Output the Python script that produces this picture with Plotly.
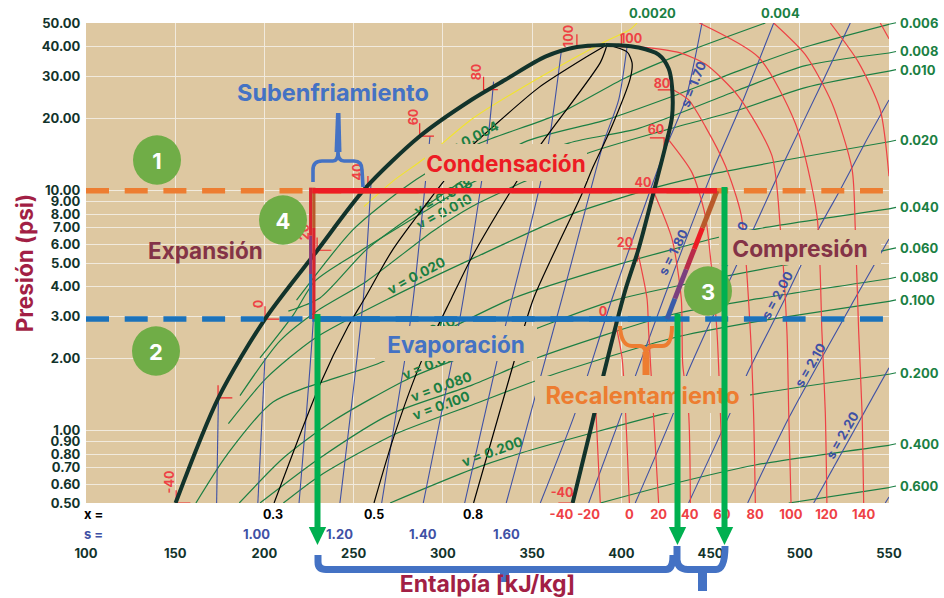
import math
import plotly.graph_objects as go

# ---------- data (h in kJ/kg, P in the axis unit) ----------
liquid_h = [150.2, 174.2, 200.3, 229.3, 256.3, 287.2, 316.3, 335.0, 357.4, 375.1, 391.0]
liquid_P = [0.5, 1.37, 2.92, 5.6, 10.2, 16.9, 24.0, 29.0, 36.2, 39.7, 40.5]
vapor_h = [391.0, 398.5, 409.7, 420.9, 426.5, 428.4, 428.4, 424.6, 417.2, 409.7, 402.2, 390.1, 382.6, 372.7]
vapor_P = [40.5, 40.4, 39.5, 36.9, 32.3, 27.2, 20.3, 15.2, 9.3, 5.73, 3.85, 1.72, 1.0, 0.5]

iso_T = {
    -20: ([385.5, 385.8, 388.2], [1.32, 1.19, 0.5]),
    0: ([396.6, 400.4, 404.5], [2.83, 2.01, 0.5]),
    20: ([408.8, 414.4, 415.3, 420.9], [5.73, 3.55, 2.59, 0.5]),
    40: ([418.1, 428.4, 433.6, 434.4, 437.7, 438.7], [9.9, 6.3, 3.55, 1.89, 1.19, 0.5]),
    60: ([425.6, 439.6, 447.0, 450.2, 453.6, 455.5, 457.3], [16.6, 11.9, 7.9, 5.05, 2.59, 1.19, 0.5]),
    80: ([429.3, 437.7, 447.1, 458.3, 467.2, 472.3, 474.1, 475.1], [26.3, 23.9, 18.5, 12.7, 7.9, 2.59, 1.19, 0.5]),
    100: ([410.6, 432.1, 447.1, 465.7, 484.4, 489.1, 492.8, 493.8, 495.1], [39.8, 37.7, 33.7, 24.7, 14.0, 6.95, 2.59, 1.19, 0.5]),
    120: ([443.7, 477.0, 497.5, 509.6, 512.4, 514.3, 515.2], [50, 35.9, 19.1, 7.9, 2.59, 1.19, 0.5]),
    140: ([485.4, 503.1, 518.0, 529.3, 531.1, 533.0, 534.9, 535.8], [50, 36.9, 23.2, 12.3, 6.95, 2.59, 1.19, 0.5]),
    160: ([517.1, 533.0, 545.1, 550.0], [50, 34.2, 21.7, 11.5]),
    180: ([545.1, 550.0], [50, 43]),
}

iso_s = {
    0.90: ([174.2, 173.2], [1.37, 0.5]),
    1.00: ([200.3, 196.3], [2.01, 0.5]),
    1.10: ([228.3, 227.4, 219.4], [5.6, 2.92, 0.5]),
    1.20: ([259.7, 255.4, 242.3], [10.7, 3.55, 0.5]),
    1.30: ([292.8, 283.4, 278.8, 265.7], [16.9, 3.55, 2.01, 0.5]),
    1.40: ([328.4, 325.6, 311.5, 304.9, 289.0], [28.5, 17.4, 3.575, 1.92, 0.5]),
    1.50: ([366.4, 360.2, 354.6, 348.1, 338.7, 330.3, 312.2], [38.4, 17.4, 10.7, 6.7, 3.55, 1.95, 0.5]),
    1.60: ([403.2, 398.5, 390.1, 379.8, 366.7, 350.9, 335.5], [39.8, 23.9, 15.9, 8.3, 3.55, 1.32, 0.5]),
    1.70: ([445.2, 435.9, 424.6, 394.8, 374.2, 354.6], [50, 23.9, 14.9, 3.55, 1.19, 0.5]),
    1.80: ([485.4, 467.6, 450.8, 423.7, 400.4, 381.7], [50, 23.2, 11.9, 3.55, 1.19, 0.5]),
    1.90: ([528.3, 511.5, 491.9, 474.1, 436.8, 429.3, 407.8], [50, 27.2, 13.5, 6.95, 1.72, 1.19, 0.5]),
    2.00: ([550.0, 536.7, 522.7, 510.6, 491.9, 470.4, 461.1, 437.7], [23.9, 15.9, 10.1, 6.95, 3.575, 1.72, 1.19, 0.5]),
    2.10: ([550.0, 531.1, 493.8, 470.8], [6.3, 3.575, 1.13, 0.5]),
    2.20: ([550.0, 507.8], [1.83, 0.5]),
    2.30: ([550.0, 547.9], [0.53, 0.5]),
}

iso_x = {
    0.3: ([205.4, 231.1, 247.0, 256.3, 272.2, 300.2, 316.3, 325.6, 353.7, 381.7, 392.0],
          [0.5, 1.56, 2.73, 3.575, 5.73, 10.9, 15.4, 17.8, 26.9, 36.6, 40.6]),
    0.5: ([261.4, 272.2, 288.1, 304.9, 316.3, 340.6, 354.6, 388.2, 392.0],
          [0.5, 0.93, 1.96, 3.575, 5.3, 10.7, 15.5, 34.2, 40.6]),
    0.8: ([317.2, 339.7, 350.9, 377.9, 383.6, 393.8, 405.0, 406.0, 403.2, 392.0],
          [0.5, 1.92, 3.575, 9.7, 12.3, 17.9, 29.4, 34.2, 37.9, 40.6]),
}

iso_v = {
    "0.004": ([218.0, 249.8, 281.6, 320.0, 363.0, 402.2, 435.9, 480.7], [3.5, 6.9, 10.7, 15.7, 20.6, 29.5, 37.7, 50]),
    "0.006": ([213.4, 231.1, 257.3, 286.2, 345.3, 391.0, 428.4, 465.7, 503.1, 550.0], [3.15, 3.575, 5.7, 8.2, 15.9, 19.7, 24.7, 31.6, 39.7, 49.4]),
    "0.008": ([197.5, 216.2, 228.3, 253.5, 290.9, 316.3, 370.5, 409.7, 465.7, 503.1, 550.0], [2.01, 3.04, 4.2, 5.6, 8.3, 10.8, 15.8, 18.2, 26.3, 33.2, 37.5]),
    "0.010": ([186.3, 208.7, 229.3, 257.3, 294.6, 316.3, 345.3, 380.7, 424.6, 465.7, 503.1, 550.0], [1.4, 2.37, 3.15, 4.2, 6.8, 8.6, 10.9, 14.3, 17.9, 21.7, 26.9, 31.5]),
    "0.020": ([179.8, 201.2, 228.3, 272.2, 316.3, 370.5, 420.9, 454.5, 550.0], [1.07, 1.66, 2.43, 3.63, 5.2, 7.9, 10.4, 11.9, 16.0]),
    "0.040": ([161.6, 178.8, 205.0, 264.8, 338.7, 396.6, 454.5, 477.0, 550.0], [0.5, 0.79, 1.32, 1.92, 3.55, 4.89, 6.4, 6.95, 8.4]),
    "0.060": ([185.9, 210.6, 238.6, 281.6, 316.3, 352.7, 396.6, 490.0, 545.7, 550.0], [0.5, 0.77, 1.1, 1.66, 2.1, 2.67, 3.5, 4.88, 5.6, 5.7]),
    "0.080": ([197.5, 231.1, 270.4, 316.3, 352.7, 428.4, 476.9, 550.0], [0.5, 0.77, 1.17, 1.55, 2.01, 3.05, 3.55, 4.3]),
    "0.100": ([210.6, 231.1, 272.2, 316.3, 360.2, 428.4, 472.3, 550.0], [0.5, 0.65, 0.96, 1.28, 1.7, 2.43, 2.82, 3.46]),
    "0.200": ([270.4, 316.3, 344.3, 426.5, 472.3, 550.0], [0.5, 0.69, 0.81, 1.19, 1.41, 1.72]),
    "0.400": ([388.2, 428.4, 475.1, 550.0], [0.5, 0.6, 0.72, 0.87]),
    "0.600": ([493.8, 550.0], [0.5, 0.58]),
}
v_yellow_h = [255.8, 272.2, 290.0, 316.3, 353.7, 391.0, 405.0, 408.8]
v_yellow_P = [8.6, 11.0, 13.7, 19.9, 29.5, 41.9, 47.0, 50.0]

mark_liquid_T = [-40, -20, 0, 20, 40, 60, 80, 100]
mark_liquid_h = [150.5, 174.0, 200.3, 229.5, 258.0, 287.0, 322.8, 375.1]
mark_liquid_P = [0.5, 1.37, 2.92, 5.65, 10.2, 16.9, 26.4, 39.7]
mark_vapor_T = [-40, 0, 20, 40, 60, 80]
mark_vapor_h = [372.7, 396.6, 409.0, 417.5, 424.0, 428.4]
mark_vapor_P = [0.5, 2.92, 5.73, 10.0, 16.6, 26.3]

P_cond = 10.0
P_evap = 2.92
h_expansion = 226.8
h_cond_end = 453.6
h_evap_end = 425.6
h_dash_end = 546.6
comp_h = [425.6, 430.0, 436.4, 440.9, 445.5, 453.6]
comp_P = [2.92, 3.55, 4.7, 5.73, 7.0, 10.0]
comp_colors = ["#3B5BA9", "#7B3F7F", "#B92B4A", "#ED1C24", "#B9592A"]

x_ticks = [100, 150, 200, 250, 300, 350, 400, 450, 500, 550]
y_ticks = [0.5, 0.6, 0.7, 0.8, 0.9, 1, 2, 3, 4, 5, 6, 7, 8, 9, 10, 20, 30, 40, 50]
bottom_x_vals = [0.3, 0.5, 0.8]
bottom_x_h = [205.0, 261.4, 317.0]
bottom_T_vals = [-40, -20, 0, 20, 40, 60, 80, 100, 120, 140]
bottom_T_h = [366.4, 381.7, 404.5, 420.9, 438.3, 456.4, 475.0, 495.0, 515.0, 535.8]
bottom_s_vals = [1.00, 1.20, 1.40, 1.60]
bottom_s_h = [195.6, 242.3, 289.0, 335.5]

# ---------- style ----------
L, R, T, B = 86, 889, 23, 503
W, H = 944, 598
FONT = "Inter"
BG = "#DEC8A1"
GRID = "#F1EADD"
DARK = "#12332B"
GREEN_L = "#1B7F43"
BLUE_L = "#3F51A5"
RED_L = "#EE4145"
GREEN_A = "#00B050"
BRACE = "#4472C4"
CIRC = "#70AD47"
MAROON = "#843347"
CRIMSON = "#A21F45"

def fx(p):
    return (p - L) / (R - L)

def fy(p):
    return (B - p) / (B - T)

def py_of_P(P):
    return B - (math.log10(P) - math.log10(0.5)) * 240

def path(seq):
    out = []
    for s in seq:
        if isinstance(s, str):
            out.append(s)
        else:
            out.append(f"{fx(s[0]):.5f},{fy(s[1]):.5f}")
    return "M" + " ".join(out)

fig = go.Figure()

def add(x, y, color, width, shape="linear", dash=None, smoothing=0.7):
    line = dict(color=color, width=width, shape=shape)
    if shape == "spline":
        line["smoothing"] = smoothing
    if dash:
        line["dash"] = dash
    fig.add_trace(go.Scatter(x=x, y=y, mode="lines", line=line, hoverinfo="skip", showlegend=False))

for k, (h, P) in iso_v.items():
    add(h, P, GREEN_L, 1.2, "spline")
add(v_yellow_h, v_yellow_P, "#F2E42C", 1.1, "spline")
for k, (h, P) in iso_s.items():
    add(h, P, BLUE_L, 1.1, "spline")
for k, (h, P) in iso_x.items():
    add(h, P, "#000000", 1.2, "spline")
for k, (h, P) in iso_T.items():
    add(h, P, RED_L, 1.2, "spline")

# short saturation-temperature marks
mx, my = [], []
for h, P in zip(mark_liquid_h, mark_liquid_P):
    mx += [h + 8, h, h, None]
    my += [P, P, P * 1.13, None]
for h, P in zip(mark_vapor_h, mark_vapor_P):
    mx += [h - 8, h, h, None]
    my += [P, P, P / 1.13 if P > 1 else P * 1.1, None]
mx += [400.0, 400.0, 408.0, None]
my += [45.0, 39.8, 39.8, None]
add(mx, my, "#EE2A2E", 1.2)

add(liquid_h, liquid_P, DARK, 4, "spline", smoothing=0.8)
add(vapor_h, vapor_P, DARK, 4, "spline", smoothing=0.8)

# process cycle
add([100, h_dash_end], [P_cond, P_cond], "#ED7D31", 5.6, dash="23px,15.7px")
add([100, h_dash_end], [P_evap, P_evap], "#1B72BA", 5.6, dash="23px,15.7px")
add([h_expansion, h_evap_end], [P_evap, P_evap], "#1B72BA", 5.6)
for i in range(len(comp_colors)):
    add(comp_h[i:i + 2], comp_P[i:i + 2], comp_colors[i], 5)
add([h_expansion - 0.9] * 2, [P_evap, 4.5], "#2A69B5", 3.2)
add([h_expansion - 0.9] * 2, [4.5, 6.5], "#8A3A78", 3.2)
add([h_expansion - 0.9] * 2, [6.5, P_cond * 1.03], "#D9252E", 3.2)
add([h_expansion + 0.9] * 2, [P_evap, 7.0], "#D9252E", 3.2)
add([h_expansion + 0.9] * 2, [7.0, P_cond * 1.03], "#B9592A", 3.2)
add([h_expansion, h_cond_end], [P_cond, P_cond], "#ED1C24", 5.6)

shapes = []

def rot_label(cx, cy, text, color, size, angle, layer="above"):
    shapes.append(dict(type="rect", xref="paper", yref="paper", x0=fx(cx - 35), x1=fx(cx + 35),
                       y0=fy(cy + 10), y1=fy(cy - 10), line=dict(width=0), fillcolor="rgba(0,0,0,0)",
                       layer=layer,
                       label=dict(text=text, textangle=angle, textposition="middle center",
                                  font=dict(family=FONT, size=size, color=color, weight=700))))

for args in [
    (443, 196, "v = 0.008", GREEN_L, 13.5, -28, "below"),
    (444, 211, "v = 0.010", GREEN_L, 13.5, -28, "below"),
    (425, 333, "v = 0.040", GREEN_L, 13.5, -25, "below"),
    (469, 139, "v = 0.004", GREEN_L, 13.5, -28),
    (416, 275, "v = 0.020", GREEN_L, 13.5, -28),
    (432, 363, "v = 0.060", GREEN_L, 13.5, -22),
    (441, 386, "v = 0.080", GREEN_L, 13.5, -20),
    (441, 405, "v = 0.100", GREEN_L, 13.5, -20),
    (492, 451, "v = 0.200", GREEN_L, 13.5, -20),
    (693, 84, "s = 1.70", BLUE_L, 13, -68),
    (673, 252, "s = 1.80", BLUE_L, 13, -63),
    (733, 244, "s = 1.90", BLUE_L, 13, -63),
    (777, 295, "s = 2.00", BLUE_L, 13, -62),
    (810, 365, "s = 2.10", BLUE_L, 13, -60),
    (842, 435, "s = 2.20", BLUE_L, 13, -60),
    (169, 482, "-40", RED_L, 12.5, -90),
    (258, 304, "0", RED_L, 12.5, -90),
    (304, 232, "20", RED_L, 12.5, -90),
    (357, 172, "40", RED_L, 12.5, -90),
    (413, 117, "60", RED_L, 12.5, -90),
    (476, 72, "80", RED_L, 12.5, -90),
    (568, 36, "100", RED_L, 12.5, -90),
    (631, 38, "100", RED_L, 12.5, 0),
    (662, 83, "80", RED_L, 12.5, 0),
    (656, 129, "60", RED_L, 12.5, 0),
    (643, 182, "40", RED_L, 12.5, 0),
    (625, 242, "20", RED_L, 12.5, 0),
    (603, 311, "0", RED_L, 12.5, 0),
    (562, 492, "-40", RED_L, 12.5, 0),
]:
    rot_label(*args)

def box(x0, y0, x1, y1, text, color, size=21):
    shapes.append(dict(type="rect", xref="paper", yref="paper", x0=fx(x0), x1=fx(x1), y0=fy(y1), y1=fy(y0),
                       fillcolor=BG, line=dict(width=0), layer="above",
                       label=dict(text=text, textposition="middle center",
                                  font=dict(family=FONT, size=size, color=color, weight=700))))

box(425, 144, 587, 181, "Condensación", "#ED1C24", 22.6)
box(719, 230, 881, 265, "Compresión", MAROON, 22.8)
box(375, 326, 537, 361, "Evaporación", BRACE, 22.6)
box(535, 376, 750, 413, "Recalentamiento", "#ED7D31", 23.6)

def circle(cx, cy, text):
    shapes.append(dict(type="circle", xref="paper", yref="paper", x0=fx(cx - 24), x1=fx(cx + 24),
                       y0=fy(cy + 24.7), y1=fy(cy - 24.7), fillcolor=CIRC, line=dict(width=0), layer="above",
                       label=dict(text=text, textposition="middle center",
                                  font=dict(family=FONT, size=22, color="white", weight=700))))

circle(157, 160, "1")
circle(156, 351, "2")
circle(708, 291, "3")
circle(283, 220, "4")

# bottom-row red temperatures, under the green arrows
for t, h in zip(bottom_T_vals, bottom_T_h):
    cx = L + (h - 100) * (R - L) / 450
    shapes.append(dict(type="rect", xref="paper", yref="paper", x0=fx(cx - 20), x1=fx(cx + 20),
                       y0=fy(523), y1=fy(504), line=dict(width=0), fillcolor="rgba(0,0,0,0)", layer="above",
                       label=dict(text=str(t), textposition="middle center",
                                  font=dict(family=FONT, size=13, color=RED_L, weight=700))))

def brace(seq, color, width):
    shapes.append(dict(type="path", xref="paper", yref="paper", path=path(seq), fillcolor="rgba(0,0,0,0)",
                       line=dict(color=color, width=width), layer="above"))

def fill(pts, color):
    seq = [pts[0]]
    for p in pts[1:]:
        seq += ["L", p]
    shapes.append(dict(type="path", xref="paper", yref="paper", path=path(seq) + " Z", fillcolor=color,
                       line=dict(width=0), layer="above"))

# Subenfriamiento brace
brace([(313, 182), "L", (313, 170), "Q", (313, 161), (322, 161), "L", (333, 161), "Q", (338, 161), (338, 152), "L", (338, 114),
       "M", (338, 152), "Q", (338, 161), (344, 161), "L", (354, 161), "Q", (362, 161), (362, 170), "L", (363, 187)], BRACE, 3.6)
fill([(336, 113), (340.5, 113), (341.5, 152), (334.5, 152)], BRACE)
# Recalentamiento brace
brace([(620, 326), "Q", (621, 346), (632, 346), "L", (640, 346), "Q", (646, 346), (646, 356), "L", (646, 375),
       "M", (646, 356), "Q", (646, 346), (654, 346), "L", (662, 346), "Q", (672, 346), (672, 326)], "#ED7D31", 4)
fill([(642.5, 352), (649.5, 352), (649.5, 375), (642.5, 375)], "#ED7D31")
# Entalpia braces
brace([(318, 555), "L", (318, 562), "Q", (318, 569.5), (326, 569.5), "L", (666, 569.5), "Q", (673, 569.5), (673, 555)], BRACE, 7)
fill([(500, 566), (509, 566), (509, 582), (500, 582)], BRACE)
brace([(677, 546), "L", (677, 560), "Q", (678, 569.5), (688, 569.5), "L", (716, 569.5), "Q", (725, 569.5), (725, 546)], BRACE, 7)
fill([(698, 566), (707, 566), (707, 591), (698, 591)], BRACE)

# green vertical arrows
for xa, ytop in [(317.5, 314), (677.5, 314), (724.5, 187)]:
    shapes.append(dict(type="line", xref="paper", yref="paper", x0=fx(xa), x1=fx(xa), y0=fy(ytop), y1=fy(530),
                       line=dict(color=GREEN_A, width=6), layer="above"))
    fill([(xa - 8.7, 527), (xa + 8.7, 527), (xa, 545)], GREEN_A)

# stubs that lead the isochores off the right edge
for k, (h, P) in iso_v.items():
    if h[-1] >= 550:
        yy = py_of_P(P[-1])
        shapes.append(dict(type="line", xref="paper", yref="paper", x0=fx(R), x1=fx(R + 7),
                           y0=fy(yy), y1=fy(yy - 1.5), line=dict(color=GREEN_L, width=1.2), layer="above"))

ann = []
def txt(x, y, text, color, size, xanchor="center", xref="paper", yref="paper", yshift=0):
    ann.append(dict(x=x, y=y, text=text, xref=xref, yref=yref, xanchor=xanchor, yanchor="middle", yshift=yshift,
                    showarrow=False, font=dict(family=FONT, size=size, color=color, weight=700)))

for k, (h, P) in iso_v.items():
    if h[-1] >= 550:
        txt(fx(898), math.log10(P[-1]), k, GREEN_L, 13, xanchor="left", yref="y", yshift=1.5)
txt(fx(652), fy(13), "0.0020", GREEN_L, 13)
txt(fx(780), fy(13), "0.004", GREEN_L, 13)
txt(fx(93), fy(514), "x =", "#000000", 13)
txt(fx(93), fy(534), "s =", BLUE_L, 13)
for v, h in zip(bottom_x_vals, bottom_x_h):
    txt(h, fy(514), f"{v:.1f}", "#000000", 12.5, xref="x")
for v, h in zip(bottom_s_vals, bottom_s_h):
    txt(h, fy(534), f"{v:.2f}", BLUE_L, 13, xref="x")
txt(fx(333), fy(92), "Subenfriamiento", BRACE, 23.5)
txt(fx(205), fy(250), "Expansión", MAROON, 22.5)

fig.update_layout(
    width=W, height=H,
    margin=dict(l=L, r=W - R, t=T, b=H - B, pad=0),
    paper_bgcolor="white", plot_bgcolor=BG,
    showlegend=False,
    shapes=shapes, annotations=ann,
    font=dict(family=FONT, color=DARK),
    xaxis=dict(range=[100, 550], tickvals=x_ticks, ticktext=[str(v) for v in x_ticks],
               showgrid=True, gridcolor=GRID, gridwidth=1.3, zeroline=False, showline=False,
               automargin=False,
               ticks="outside", ticklen=38, tickcolor="rgba(0,0,0,0)",
               tickfont=dict(family=FONT, size=13, color=DARK, weight=700),
               title=dict(text="Entalpía [kJ/kg]", standoff=18,
                          font=dict(family=FONT, size=23, color=CRIMSON, weight=700))),
    yaxis=dict(type="log", range=[math.log10(0.5), math.log10(50)], tickvals=y_ticks,
               ticktext=[f"{v:.2f}" for v in y_ticks],
               showgrid=True, gridcolor=GRID, gridwidth=1.3, zeroline=False, showline=False,
               automargin=False,
               ticks="outside", ticklen=2, tickcolor="rgba(0,0,0,0)",
               tickfont=dict(family=FONT, size=13, color=DARK, weight=700),
               title=dict(text="Presión (psi)", standoff=1,
                          font=dict(family=FONT, size=22.5, color=CRIMSON, weight=700))),
)

fig.write_html("out.html", post_script="document.body.style.margin='0';",
               config=dict(displayModeBar=False))
